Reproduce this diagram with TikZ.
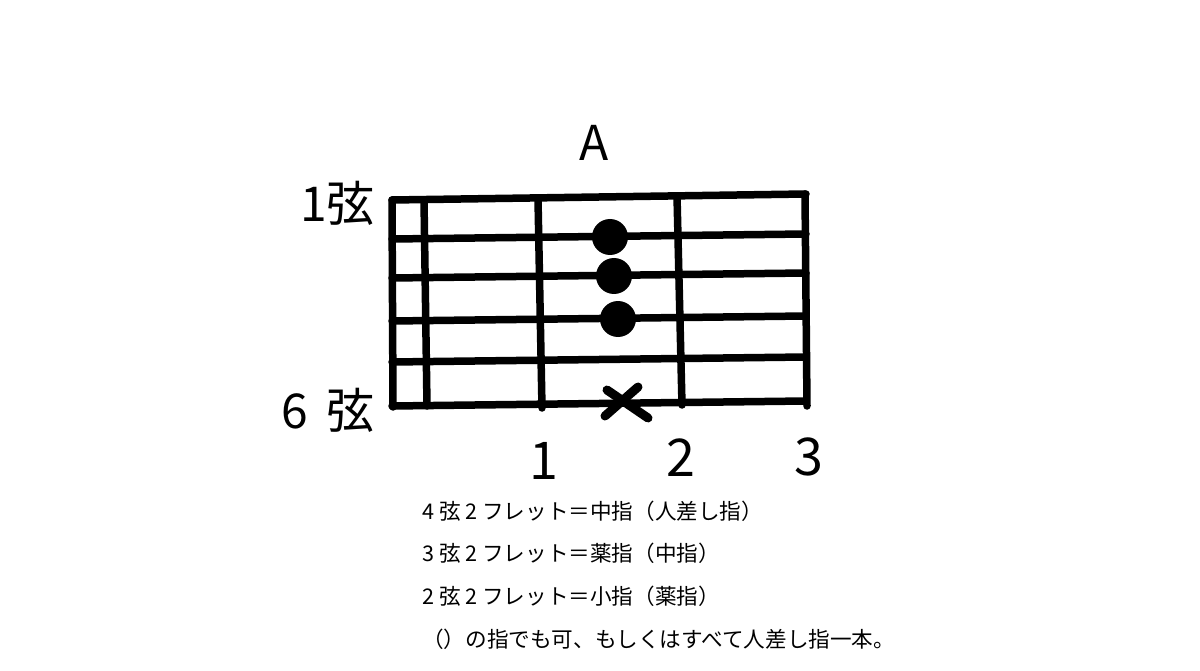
\documentclass[tikz,border=0pt]{standalone}
\usepackage{fontspec}
\setmainfont{Noto Sans CJK JP}

\begin{document}
\begin{tikzpicture}[x=1pt,y=-1pt,
    bar/.style={line width=7.5pt,line cap=round},
    dot/.style={circle,fill,inner sep=0pt,minimum size=36pt},
    big/.style={inner sep=0pt,font=\fontsize{48}{48}\selectfont},
    fretno/.style={inner sep=0pt,font=\fontsize{52}{52}\selectfont},
    note/.style={anchor=west,inner sep=0pt,font=\fontsize{21.6}{21.6}\selectfont}]
  \useasboundingbox (0,0) rectangle (1200,671);
  % strings, 1 on top
  \foreach \l/\r in {200/194,239/234,278/273,321/316,362/357,406/401}
    \draw[bar] (392,\l) -- (806,\r);
  % nut and frets
  \foreach \xt/\yt/\xb/\yb in {392/200/393/407,424/200/427/406,538/199/542/408,677/196/682/405,805/194/807/406}
    \draw[bar] (\xt,\yt) -- (\xb,\yb);
  % fingers
  \node[dot] (d2) at (610,237) {};
  \node[dot] (d3) at (614,276) {};
  \node[dot] (d4) at (618,319) {};
  \draw[line width=9pt,line cap=round] (607,390) -- (648,418) (638,387) -- (605,416);
  % labels
  \node[big] (title) at (594,143) {A};
  \node[big,anchor=east] (s1) at (375,203) {1弦};
  \node[big,anchor=east] (s6) at (375,410) {6\hspace{0.38em}弦};
  \node[fretno] (f1) at (544,461) {1};
  \node[fretno] (f2) at (681,458) {2};
  \node[fretno] (f3) at (809,457) {3};
  \node[note] (n1) at (422,511) {4 弦 2 フレット＝中指（人差し指）};
  \node[note] (n2) at (422,553) {3 弦 2 フレット＝薬指（中指）};
  \node[note] (n3) at (422,596) {2 弦 2 フレット＝小指（薬指）};
  \node[note] (n4) at (422,639) {（）の指でも可、もしくはすべて人差し指一本。};
\end{tikzpicture}
\end{document}
